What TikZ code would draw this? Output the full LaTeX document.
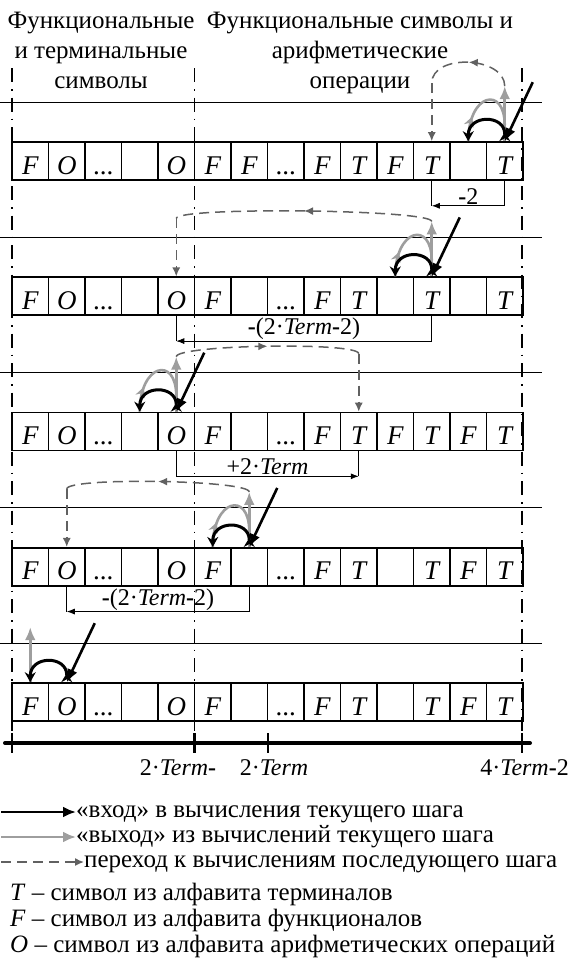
\documentclass[tikz,border=0pt]{standalone}
\usepackage{fontspec}
\setmainfont{Liberation Serif}
\usetikzlibrary{arrows.meta,decorations.markings}
\newcommand{\dts}{{\upshape...}}

\begin{document}
\begin{tikzpicture}[x=1pt,y=-1pt,cell/.style={draw,line width=1.6pt,minimum width=36.5pt,minimum height=38pt,inner sep=0pt,text height=26pt,text depth=0pt,font=\fontsize{27}{27}\selectfont\itshape},title/.style={align=center,inner sep=0pt,font=\fontsize{25}{30}\selectfont},sep/.style={line width=0.8pt},zone/.style={line width=1.5pt,dash pattern=on 14pt off 7pt on 1.5pt off 7pt},inarrow/.style={line width=2.6pt,-{Latex[length=13pt,width=11pt]}},inarc/.style={line width=3pt,{Stealth[reversed,length=9pt,width=11pt]}-{Stealth[length=10pt,width=11pt]}},outarrow/.style={draw=black!38,line width=2.6pt,-{Latex[length=13pt,width=11pt]}},outarc/.style={draw=black!38,line width=2.6pt,postaction={decorate},decoration={markings,mark=at position 0.3 with {\arrow{Stealth[length=10pt,width=10pt]}}}},jump/.style={draw=black!62,line width=1.5pt,dash pattern=on 10pt off 6pt},jumpmid/.style={jump,postaction={decorate},decoration={markings,mark=at position 0.5 with {\arrow{Latex[length=9pt,width=8pt]}}}},jumptip/.style={jump,-{Latex[length=9pt,width=8pt]}},dim/.style={line width=0.8pt},dimarrow/.style={line width=0.8pt,-{Latex[length=8pt,width=6pt]}},dimlabel/.style={font=\fontsize{24}{24}\selectfont,inner sep=1pt,above},axis/.style={line width=4pt,line cap=round},tick/.style={line width=2.5pt},axislabel/.style={font=\fontsize{24}{24}\selectfont,inner sep=0pt},note/.style={font=\fontsize{25}{25}\selectfont,anchor=west,inner sep=0pt,text height=16pt,text depth=5pt}]
\useasboundingbox (0,0) rectangle (570,975);
\node[title,anchor=north] (lefttitle) at (101,12) {Функциональные\\и терминальные\\символы};
\node[title,anchor=north] (righttitle) at (360,12) {Функциональные символы и\\арифметические\\операции};
\foreach \r in {0,...,4} \draw[sep] (0,{102+135.25*\r}) -- (542,{102+135.25*\r});
\foreach \r/\cells in {1/{F,O,\dts,{},O,F,F,\dts,F,T,F,T,{},T},2/{F,O,\dts,{},O,F,{},\dts,F,T,{},T,{},T},3/{F,O,\dts,{},O,F,{},\dts,F,T,F,T,F,T},4/{F,O,\dts,{},O,F,{},\dts,F,T,{},T,F,T},5/{F,O,\dts,{},O,F,{},\dts,F,T,{},T,F,T}} {\foreach \t [count=\c from 0] in \cells {\node[cell] (r\r-\c) at ({30.25+36.5*\c},{161+135.25*(\r-1)}) {\t};}}
\foreach \x in {12,194.5,522} \draw[zone] (\x,68) -- (\x,752);
\foreach \r/\p/\q/\t/\h/\lab in {1/13/12/11/30/{\textbf{-}2},2/11/10/4/12/{\textbf{-}(2·\textit{Term}\textbf{-}2)},3/4/3/9/12/{+2·\textit{Term}},4/6/5/1/12/{\textbf{-}(2·\textit{Term}\textbf{-}2)}} {
\coordinate (in\r) at ([shift={(28,-59)}]r\r-\p.north);
\coordinate (out\r) at ([shift={(0,-55)}]r\r-\p.north);
\coordinate (turn\r) at ([shift={(0,-58)}]r\r-\t.north);
\coordinate (back\r) at ([shift={(0,-16)}]r\r-\p.north);
\coordinate (da\r) at ([shift={(0,25)}]r\r-\p.south);
\coordinate (db\r) at ([shift={(0,25)}]r\r-\t.south);
\draw[outarc] (r\r-\q.north) .. controls +(0,-48) and +(0,-40) .. (back\r);
\draw[outarrow] (r\r-\p.north) -- (out\r);
\draw[inarc] (r\r-\p.north) .. controls +(0,-27) and +(0,-27) .. (r\r-\q.north);
\draw[inarrow] (in\r) -- (r\r-\p.north);
\draw[jumpmid] (out\r) .. controls +(0,-\h) and +(0,-\h) .. (turn\r);
\draw[jumptip] (turn\r) -- (r\r-\t.north);
\draw[dim] (r\r-\p.south) -- (da\r);
\draw[dim] (r\r-\t.south) -- (db\r);
\draw[dimarrow] (da\r) -- node[dimlabel] {\lab} (db\r);
}
\coordinate (in5) at ([shift={(28,-59)}]r5-1.north);
\coordinate (out5) at ([shift={(0,-55)}]r5-0.north);
\draw[outarrow] (r5-0.north) -- (out5);
\draw[inarc] (r5-1.north) .. controls +(0,-27) and +(0,-27) .. (r5-0.north);
\draw[inarrow] (in5) -- (r5-1.north);
\coordinate (a0) at (5,743);
\coordinate (a1) at (530,743);
\draw[axis] (a0) -- (a1);
\foreach \x in {12,194.5,268,522} \draw[tick] (\x,733) -- (\x,753);
\node[axislabel] (m1) at (178,768) {2·\textit{Term}\textbf{-}};
\node[axislabel] (m2) at (274,768) {2·\textit{Term}};
\node[axislabel,anchor=east] (m3) at (569,768) {4·\textit{Term}\textbf{-}2};
\node[note] (k1) at (76,812) {«вход» в вычисления текущего шага};
\node[note] (k2) at (76,837) {«выход» из вычислений текущего шага};
\node[note] (k3) at (84,862) {переход к вычислениям последующего шага};
\coordinate (k1s) at (1,812);
\coordinate (k2s) at (1,837);
\coordinate (k3s) at (1,862);
\draw[inarrow] (k1s) -- (k1.west);
\draw[outarrow] (k2s) -- (k2.west);
\draw[jumptip] (k3s) -- (k3.west);
\node[note] (n1) at (10,895) {\textit{T} – символ из алфавита терминалов};
\node[note] (n2) at (10,921) {\textit{F} – символ из алфавита функционалов};
\node[note] (n3) at (10,947) {\textit{O} – символ из алфавита арифметических операций};
\end{tikzpicture}
\end{document}
